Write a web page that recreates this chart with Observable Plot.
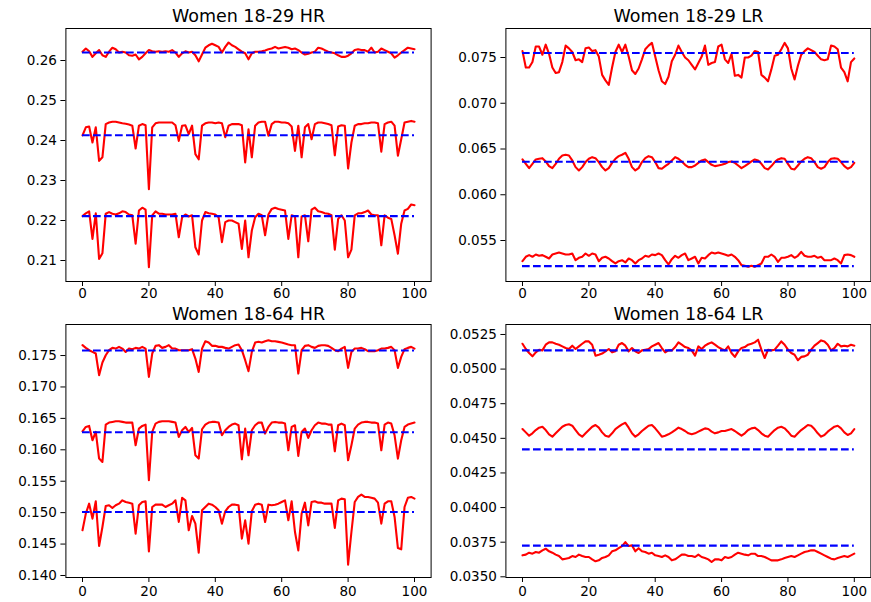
<!DOCTYPE html>
<html>
<head>
<meta charset="utf-8">
<script src="https://cdn.jsdelivr.net/npm/d3@7"></script>
<script src="https://cdn.jsdelivr.net/npm/@observablehq/plot@0.6"></script>
<style>
  html, body { margin: 0; padding: 0; background: #fff; }
  #fig { position: relative; width: 871px; height: 602px; overflow: hidden; background: #fff; }
  #fig svg { position: absolute; }
</style>
</head>
<body>
<div id="fig"></div>
<script>
// ---------- data ----------
const titles = ["Women 18-29 HR", "Women 18-29 LR", "Women 18-64 HR", "Women 18-64 LR"];
const xTicks = [0, 20, 40, 60, 80, 100];
const steps = d3.range(0, 101);

const hr1829Ticks = [0.21, 0.22, 0.23, 0.24, 0.25, 0.26];
const lr1829Ticks = [0.055, 0.060, 0.065, 0.070, 0.075];
const hr1864Ticks = [0.140, 0.145, 0.150, 0.155, 0.160, 0.165, 0.170, 0.175];
const lr1864Ticks = [0.0350, 0.0375, 0.0400, 0.0425, 0.0450, 0.0475, 0.0500, 0.0525];

const hr1829Base = [0.2620, 0.2413, 0.2211];
const lr1829Base = [0.0755, 0.0636, 0.0522];
const hr1864Base = [0.1758, 0.1628, 0.1501];
const lr1864Base = [0.05135, 0.0442, 0.03725];

const hr1829Top = [
0.2622,0.2630,0.2623,0.2609,0.2618,0.2626,0.2613,0.2609,0.2622,0.2632,
0.2628,0.2620,0.2622,0.2620,0.2613,0.2612,0.2615,0.2603,0.2609,0.2618,
0.2626,0.2623,0.2622,0.2623,0.2622,0.2623,0.2622,0.2626,0.2620,0.2609,
0.2618,0.2623,0.2620,0.2622,0.2613,0.2598,0.2615,0.2632,0.2638,0.2642,
0.2638,0.2634,0.2620,0.2634,0.2645,0.2638,0.2634,0.2628,0.2622,0.2618,
0.2603,0.2618,0.2622,0.2622,0.2623,0.2625,0.2628,0.2630,0.2634,0.2630,
0.2632,0.2634,0.2632,0.2628,0.2630,0.2626,0.2620,0.2615,0.2617,0.2620,
0.2622,0.2632,0.2630,0.2626,0.2622,0.2620,0.2618,0.2613,0.2609,0.2609,
0.2612,0.2618,0.2626,0.2628,0.2626,0.2626,0.2622,0.2632,0.2620,0.2622,
0.2630,0.2626,0.2622,0.2618,0.2607,0.2613,0.2620,0.2626,0.2632,0.2630,
0.2628];
const hr1829Mid = [
0.2413,0.2433,0.2435,0.2395,0.2433,0.2349,0.2358,0.2441,0.2445,0.2447,
0.2447,0.2445,0.2443,0.2442,0.2440,0.2437,0.2380,0.2437,0.2441,0.2438,
0.2278,0.2433,0.2443,0.2445,0.2445,0.2445,0.2445,0.2445,0.2438,0.2399,
0.2437,0.2438,0.2416,0.2437,0.2366,0.2353,0.2437,0.2443,0.2445,0.2445,
0.2443,0.2445,0.2443,0.2408,0.2437,0.2441,0.2441,0.2441,0.2438,0.2345,
0.2428,0.2358,0.2437,0.2445,0.2447,0.2447,0.2412,0.2441,0.2447,0.2447,
0.2445,0.2445,0.2443,0.2435,0.2374,0.2437,0.2358,0.2433,0.2441,0.2403,
0.2441,0.2445,0.2445,0.2443,0.2441,0.2438,0.2363,0.2435,0.2438,0.2437,
0.2330,0.2395,0.2437,0.2441,0.2441,0.2443,0.2443,0.2445,0.2445,0.2443,
0.2372,0.2441,0.2445,0.2447,0.2437,0.2362,0.2403,0.2445,0.2447,0.2449,
0.2447];
const hr1829Bot = [
0.2211,0.2218,0.2223,0.2154,0.2218,0.2104,0.2118,0.2217,0.2221,0.2217,
0.2215,0.2218,0.2223,0.2221,0.2215,0.2213,0.2142,0.2225,0.2232,0.2227,
0.2083,0.2213,0.2223,0.2217,0.2217,0.2215,0.2215,0.2215,0.2217,0.2158,
0.2208,0.2215,0.2210,0.2213,0.2133,0.2115,0.2200,0.2221,0.2218,0.2217,
0.2215,0.2208,0.2146,0.2196,0.2200,0.2200,0.2196,0.2192,0.2129,0.2200,
0.2108,0.2175,0.2208,0.2217,0.2213,0.2163,0.2215,0.2229,0.2232,0.2229,
0.2227,0.2225,0.2154,0.2213,0.2210,0.2108,0.2210,0.2213,0.2148,0.2227,
0.2232,0.2223,0.2221,0.2218,0.2217,0.2213,0.2127,0.2204,0.2213,0.2200,
0.2108,0.2127,0.2213,0.2218,0.2218,0.2221,0.2225,0.2215,0.2213,0.2213,
0.2138,0.2213,0.2207,0.2204,0.2163,0.2117,0.2192,0.2225,0.2229,0.2240,
0.2238];

const lr1829Top = [
0.0757,0.0739,0.0739,0.0745,0.0762,0.0762,0.0753,0.0764,0.0754,0.0739,
0.0733,0.0734,0.0745,0.0763,0.0760,0.0756,0.0747,0.0748,0.0745,0.0760,
0.0761,0.0757,0.0758,0.0751,0.0731,0.0725,0.0720,0.0739,0.0756,0.0764,
0.0756,0.0764,0.0751,0.0736,0.0732,0.0738,0.0748,0.0759,0.0763,0.0766,
0.0751,0.0736,0.0724,0.0721,0.0729,0.0746,0.0753,0.0763,0.0756,0.0750,
0.0747,0.0742,0.0737,0.0744,0.0751,0.0763,0.0742,0.0744,0.0745,0.0762,
0.0764,0.0748,0.0744,0.0754,0.0730,0.0731,0.0728,0.0750,0.0750,0.0752,
0.0757,0.0756,0.0731,0.0728,0.0724,0.0737,0.0752,0.0753,0.0759,0.0766,
0.0760,0.0738,0.0726,0.0741,0.0753,0.0757,0.0760,0.0758,0.0756,0.0752,
0.0748,0.0747,0.0748,0.0763,0.0762,0.0759,0.0739,0.0734,0.0724,0.0745,
0.0749];
const lr1829Mid = [
0.06386,0.06338,0.06291,0.06338,0.06386,0.06393,0.06400,0.06364,0.06313,0.06291,
0.06338,0.06393,0.06429,0.06437,0.06429,0.06375,0.06302,0.06266,0.06302,0.06357,
0.06393,0.06411,0.06400,0.06357,0.06302,0.06266,0.06291,0.06349,0.06393,0.06422,
0.06437,0.06458,0.06393,0.06302,0.06266,0.06291,0.06357,0.06400,0.06422,0.06411,
0.06357,0.06291,0.06284,0.06313,0.06338,0.06375,0.06411,0.06393,0.06364,0.06327,
0.06302,0.06302,0.06320,0.06349,0.06375,0.06386,0.06357,0.06327,0.06313,0.06320,
0.06327,0.06338,0.06357,0.06364,0.06349,0.06320,0.06291,0.06313,0.06338,0.06364,
0.06386,0.06375,0.06338,0.06291,0.06277,0.06313,0.06357,0.06386,0.06400,0.06393,
0.06338,0.06284,0.06277,0.06320,0.06364,0.06393,0.06411,0.06400,0.06357,0.06302,
0.06284,0.06302,0.06357,0.06393,0.06400,0.06393,0.06357,0.06313,0.06284,0.06302,
0.06349];
const lr1829Bot = [
0.05274,0.05322,0.05340,0.05322,0.05347,0.05333,0.05340,0.05322,0.05303,0.05347,
0.05358,0.05369,0.05358,0.05347,0.05347,0.05358,0.05285,0.05311,0.05322,0.05358,
0.05333,0.05358,0.05347,0.05274,0.05311,0.05322,0.05303,0.05274,0.05249,0.05274,
0.05285,0.05260,0.05303,0.05285,0.05249,0.05285,0.05303,0.05333,0.05322,0.05347,
0.05340,0.05358,0.05340,0.05285,0.05238,0.05296,0.05333,0.05311,0.05340,0.05358,
0.05285,0.05303,0.05322,0.05249,0.05311,0.05303,0.05340,0.05369,0.05358,0.05369,
0.05358,0.05347,0.05333,0.05347,0.05322,0.05285,0.05231,0.05223,0.05212,0.05223,
0.05212,0.05231,0.05249,0.05322,0.05322,0.05347,0.05322,0.05267,0.05311,0.05311,
0.05322,0.05340,0.05311,0.05333,0.05376,0.05333,0.05322,0.05322,0.05333,0.05311,
0.05322,0.05285,0.05285,0.05285,0.05303,0.05285,0.05249,0.05340,0.05347,0.05340,
0.05322];

const hr1864Top = [
0.17665,0.17622,0.17585,0.17558,0.17532,0.17187,0.17389,0.17505,0.17585,0.17622,
0.17611,0.17638,0.17611,0.17558,0.17611,0.17601,0.17622,0.17611,0.17638,0.17611,
0.17160,0.17532,0.17654,0.17665,0.17622,0.17638,0.17665,0.17611,0.17611,0.17585,
0.17585,0.17585,0.17585,0.17601,0.17452,0.17240,0.17611,0.17728,0.17707,0.17654,
0.17654,0.17638,0.17638,0.17622,0.17611,0.17638,0.17665,0.17675,0.17585,0.17426,
0.17251,0.17558,0.17707,0.17718,0.17707,0.17728,0.17744,0.17728,0.17728,0.17718,
0.17707,0.17691,0.17675,0.17665,0.17665,0.17213,0.17585,0.17654,0.17665,0.17638,
0.17622,0.17654,0.17665,0.17665,0.17654,0.17622,0.17585,0.17569,0.17611,0.17638,
0.17304,0.17558,0.17611,0.17611,0.17622,0.17601,0.17569,0.17569,0.17569,0.17585,
0.17611,0.17611,0.17622,0.17638,0.17585,0.17304,0.17479,0.17601,0.17622,0.17638,
0.17611];
const hr1864Mid = [
0.16295,0.16364,0.16380,0.16152,0.16284,0.15860,0.15807,0.16401,0.16433,0.16444,
0.16454,0.16454,0.16444,0.16433,0.16433,0.16433,0.16072,0.16338,0.16380,0.16401,
0.15515,0.16284,0.16417,0.16444,0.16454,0.16454,0.16454,0.16444,0.16433,0.16205,
0.16311,0.16364,0.16284,0.16348,0.15913,0.15860,0.16327,0.16401,0.16433,0.16444,
0.16444,0.16433,0.16231,0.16311,0.16364,0.16401,0.16417,0.16391,0.15849,0.16338,
0.15913,0.16311,0.16391,0.16433,0.16433,0.16258,0.16364,0.16433,0.16444,0.16433,
0.16433,0.16417,0.15993,0.16364,0.16391,0.15902,0.16284,0.16338,0.16189,0.16311,
0.16391,0.16433,0.16417,0.16417,0.16401,0.16401,0.15977,0.16391,0.16417,0.16391,
0.15833,0.16072,0.16338,0.16401,0.16433,0.16444,0.16444,0.16433,0.16433,0.16417,
0.15993,0.16401,0.16433,0.16417,0.16231,0.15860,0.16152,0.16364,0.16401,0.16417,
0.16433];
const hr1864Bot = [
0.14719,0.14984,0.15143,0.14905,0.15181,0.14469,0.14772,0.15106,0.15117,0.15074,
0.15117,0.15143,0.15196,0.15170,0.15159,0.15143,0.14666,0.15117,0.15170,0.15181,
0.14384,0.15090,0.15127,0.15127,0.15127,0.15090,0.15117,0.15143,0.15196,0.14852,
0.15236,0.15196,0.14719,0.14947,0.14825,0.14363,0.15037,0.15090,0.15143,0.15127,
0.15090,0.15037,0.14825,0.15021,0.15090,0.15127,0.15127,0.15117,0.14586,0.14878,
0.14506,0.15021,0.15127,0.15143,0.15127,0.14852,0.15127,0.15117,0.15127,0.15143,
0.15170,0.15196,0.14878,0.15181,0.14692,0.14400,0.14984,0.15159,0.14798,0.15170,
0.15181,0.15159,0.15159,0.15143,0.15143,0.15143,0.14756,0.15196,0.15223,0.15212,
0.14172,0.14692,0.15170,0.15250,0.15287,0.15250,0.15250,0.15236,0.15223,0.15159,
0.14825,0.15143,0.15181,0.15181,0.14931,0.14437,0.14416,0.15090,0.15236,0.15250,
0.15223];

const lr1864Top = [
0.05183,0.05145,0.05116,0.05092,0.05121,0.05140,0.05135,0.05176,0.05193,0.05193,
0.05183,0.05176,0.05164,0.05152,0.05145,0.05169,0.05145,0.05164,0.05183,0.05200,
0.05200,0.05176,0.05097,0.05104,0.05112,0.05128,0.05145,0.05121,0.05128,0.05176,
0.05188,0.05169,0.05128,0.05152,0.05128,0.05116,0.05135,0.05140,0.05145,0.05164,
0.05176,0.05188,0.05152,0.05121,0.05135,0.05135,0.05159,0.05193,0.05176,0.05159,
0.05152,0.05135,0.05097,0.05164,0.05145,0.05169,0.05183,0.05193,0.05176,0.05159,
0.05145,0.05135,0.05164,0.05116,0.05088,0.05128,0.05152,0.05159,0.05176,0.05183,
0.05193,0.05212,0.05140,0.05080,0.05140,0.05135,0.05140,0.05169,0.05200,0.05176,
0.05140,0.05116,0.05104,0.05064,0.05088,0.05092,0.05104,0.05140,0.05169,0.05188,
0.05207,0.05200,0.05176,0.05135,0.05152,0.05183,0.05164,0.05169,0.05164,0.05176,
0.05169];
const lr1864Mid = [
0.04567,0.04543,0.04519,0.04536,0.04560,0.04577,0.04584,0.04560,0.04529,0.04512,
0.04536,0.04560,0.04584,0.04596,0.04601,0.04591,0.04560,0.04529,0.04512,0.04536,
0.04560,0.04584,0.04596,0.04577,0.04543,0.04519,0.04512,0.04536,0.04567,0.04584,
0.04601,0.04612,0.04577,0.04536,0.04512,0.04529,0.04553,0.04572,0.04591,0.04596,
0.04572,0.04543,0.04512,0.04519,0.04529,0.04543,0.04560,0.04577,0.04567,0.04553,
0.04536,0.04529,0.04536,0.04548,0.04560,0.04572,0.04567,0.04548,0.04536,0.04543,
0.04553,0.04553,0.04560,0.04567,0.04553,0.04536,0.04519,0.04536,0.04560,0.04572,
0.04577,0.04560,0.04536,0.04519,0.04512,0.04536,0.04560,0.04577,0.04584,0.04572,
0.04548,0.04519,0.04512,0.04536,0.04560,0.04577,0.04596,0.04591,0.04567,0.04536,
0.04512,0.04524,0.04548,0.04567,0.04584,0.04591,0.04572,0.04543,0.04524,0.04536,
0.04567];
const lr1864Bot = [
0.03655,0.03660,0.03674,0.03667,0.03679,0.03674,0.03691,0.03703,0.03684,0.03674,
0.03660,0.03650,0.03626,0.03631,0.03636,0.03650,0.03643,0.03660,0.03650,0.03643,
0.03643,0.03626,0.03612,0.03619,0.03636,0.03643,0.03655,0.03684,0.03691,0.03707,
0.03722,0.03751,0.03722,0.03727,0.03684,0.03707,0.03684,0.03679,0.03667,0.03674,
0.03655,0.03650,0.03643,0.03655,0.03643,0.03619,0.03626,0.03643,0.03660,0.03660,
0.03650,0.03650,0.03643,0.03660,0.03643,0.03636,0.03626,0.03607,0.03626,0.03626,
0.03619,0.03643,0.03636,0.03643,0.03660,0.03674,0.03667,0.03660,0.03655,0.03667,
0.03667,0.03650,0.03650,0.03643,0.03631,0.03619,0.03619,0.03619,0.03626,0.03636,
0.03643,0.03650,0.03643,0.03655,0.03667,0.03679,0.03684,0.03691,0.03691,0.03679,
0.03667,0.03655,0.03643,0.03631,0.03626,0.03636,0.03643,0.03650,0.03643,0.03655,
0.03667];

// ---------- layout ----------
const panels = [
  {title: titles[0], series: [hr1829Top, hr1829Mid, hr1829Bot], base: hr1829Base,
   domain: [0.20475, 0.2680], ticks: hr1829Ticks, fmt: ".2f", col: 0, row: 0},
  {title: titles[1], series: [lr1829Top, lr1829Mid, lr1829Bot], base: lr1829Base,
   domain: [0.05052, 0.07817], ticks: lr1829Ticks, fmt: ".3f", col: 1, row: 0},
  {title: titles[2], series: [hr1864Top, hr1864Mid, hr1864Bot], base: hr1864Base,
   domain: [0.13968, 0.17994], ticks: hr1864Ticks, fmt: ".3f", col: 0, row: 1},
  {title: titles[3], series: [lr1864Top, lr1864Mid, lr1864Bot], base: lr1864Base,
   domain: [0.03495, 0.05322], ticks: lr1864Ticks, fmt: ".4f", col: 1, row: 1}
];

const colGeom = [
  {left: 0, width: 440, mL: 65.4, mR: 9.4},
  {left: 440, width: 431, mL: 65.4, mR: 0.6}
];
const rowGeom = [
  {top: 0, height: 305, mT: 28, mB: 24, titleDy: -12, xPad: 2},
  {top: 300, height: 302, mT: 24, mB: 25, titleDy: -10, xPad: 4}
];

const fig = document.getElementById("fig");

for (const p of panels) {
  const c = colGeom[p.col], r = rowGeom[p.row];
  const marks = [Plot.frame({stroke: "black", strokeWidth: 1})];
  p.series.forEach((s, k) => {
    marks.push(Plot.line(s, {x: (d, i) => steps[i], y: d => d, stroke: "#ff0000", strokeWidth: 2.1}));
    marks.push(Plot.ruleY([p.base[k]], {
      y: d => d, x1: steps[0], x2: steps[steps.length - 1],
      stroke: "#0000ff", strokeWidth: 2.1, strokeDasharray: "7.7,3.3", strokeLinecap: "butt"
    }));
  });
  marks.push(Plot.text([p.title], {
    text: d => d, frameAnchor: "top", lineAnchor: "middle", dy: r.titleDy,
    fontSize: 17.5, fill: "black"
  }));

  const svg = Plot.plot({
    width: c.width,
    height: r.height,
    marginLeft: c.mL,
    marginRight: c.mR,
    marginTop: r.mT,
    marginBottom: r.mB,
    style: {background: "transparent", fontFamily: "DejaVu Sans", fontSize: "13.5px", color: "black", overflow: "visible"},
    x: {domain: [-5, 105], ticks: xTicks, tickFormat: d3.format("d"), tickSize: 5, tickPadding: r.xPad, label: null},
    y: {domain: p.domain, ticks: p.ticks, tickFormat: d3.format(p.fmt), tickSize: 5, tickPadding: 4, label: null},
    marks
  });
  svg.style.left = c.left + "px";
  svg.style.top = r.top + "px";
  fig.appendChild(svg);
}
</script>
</body>
</html>
